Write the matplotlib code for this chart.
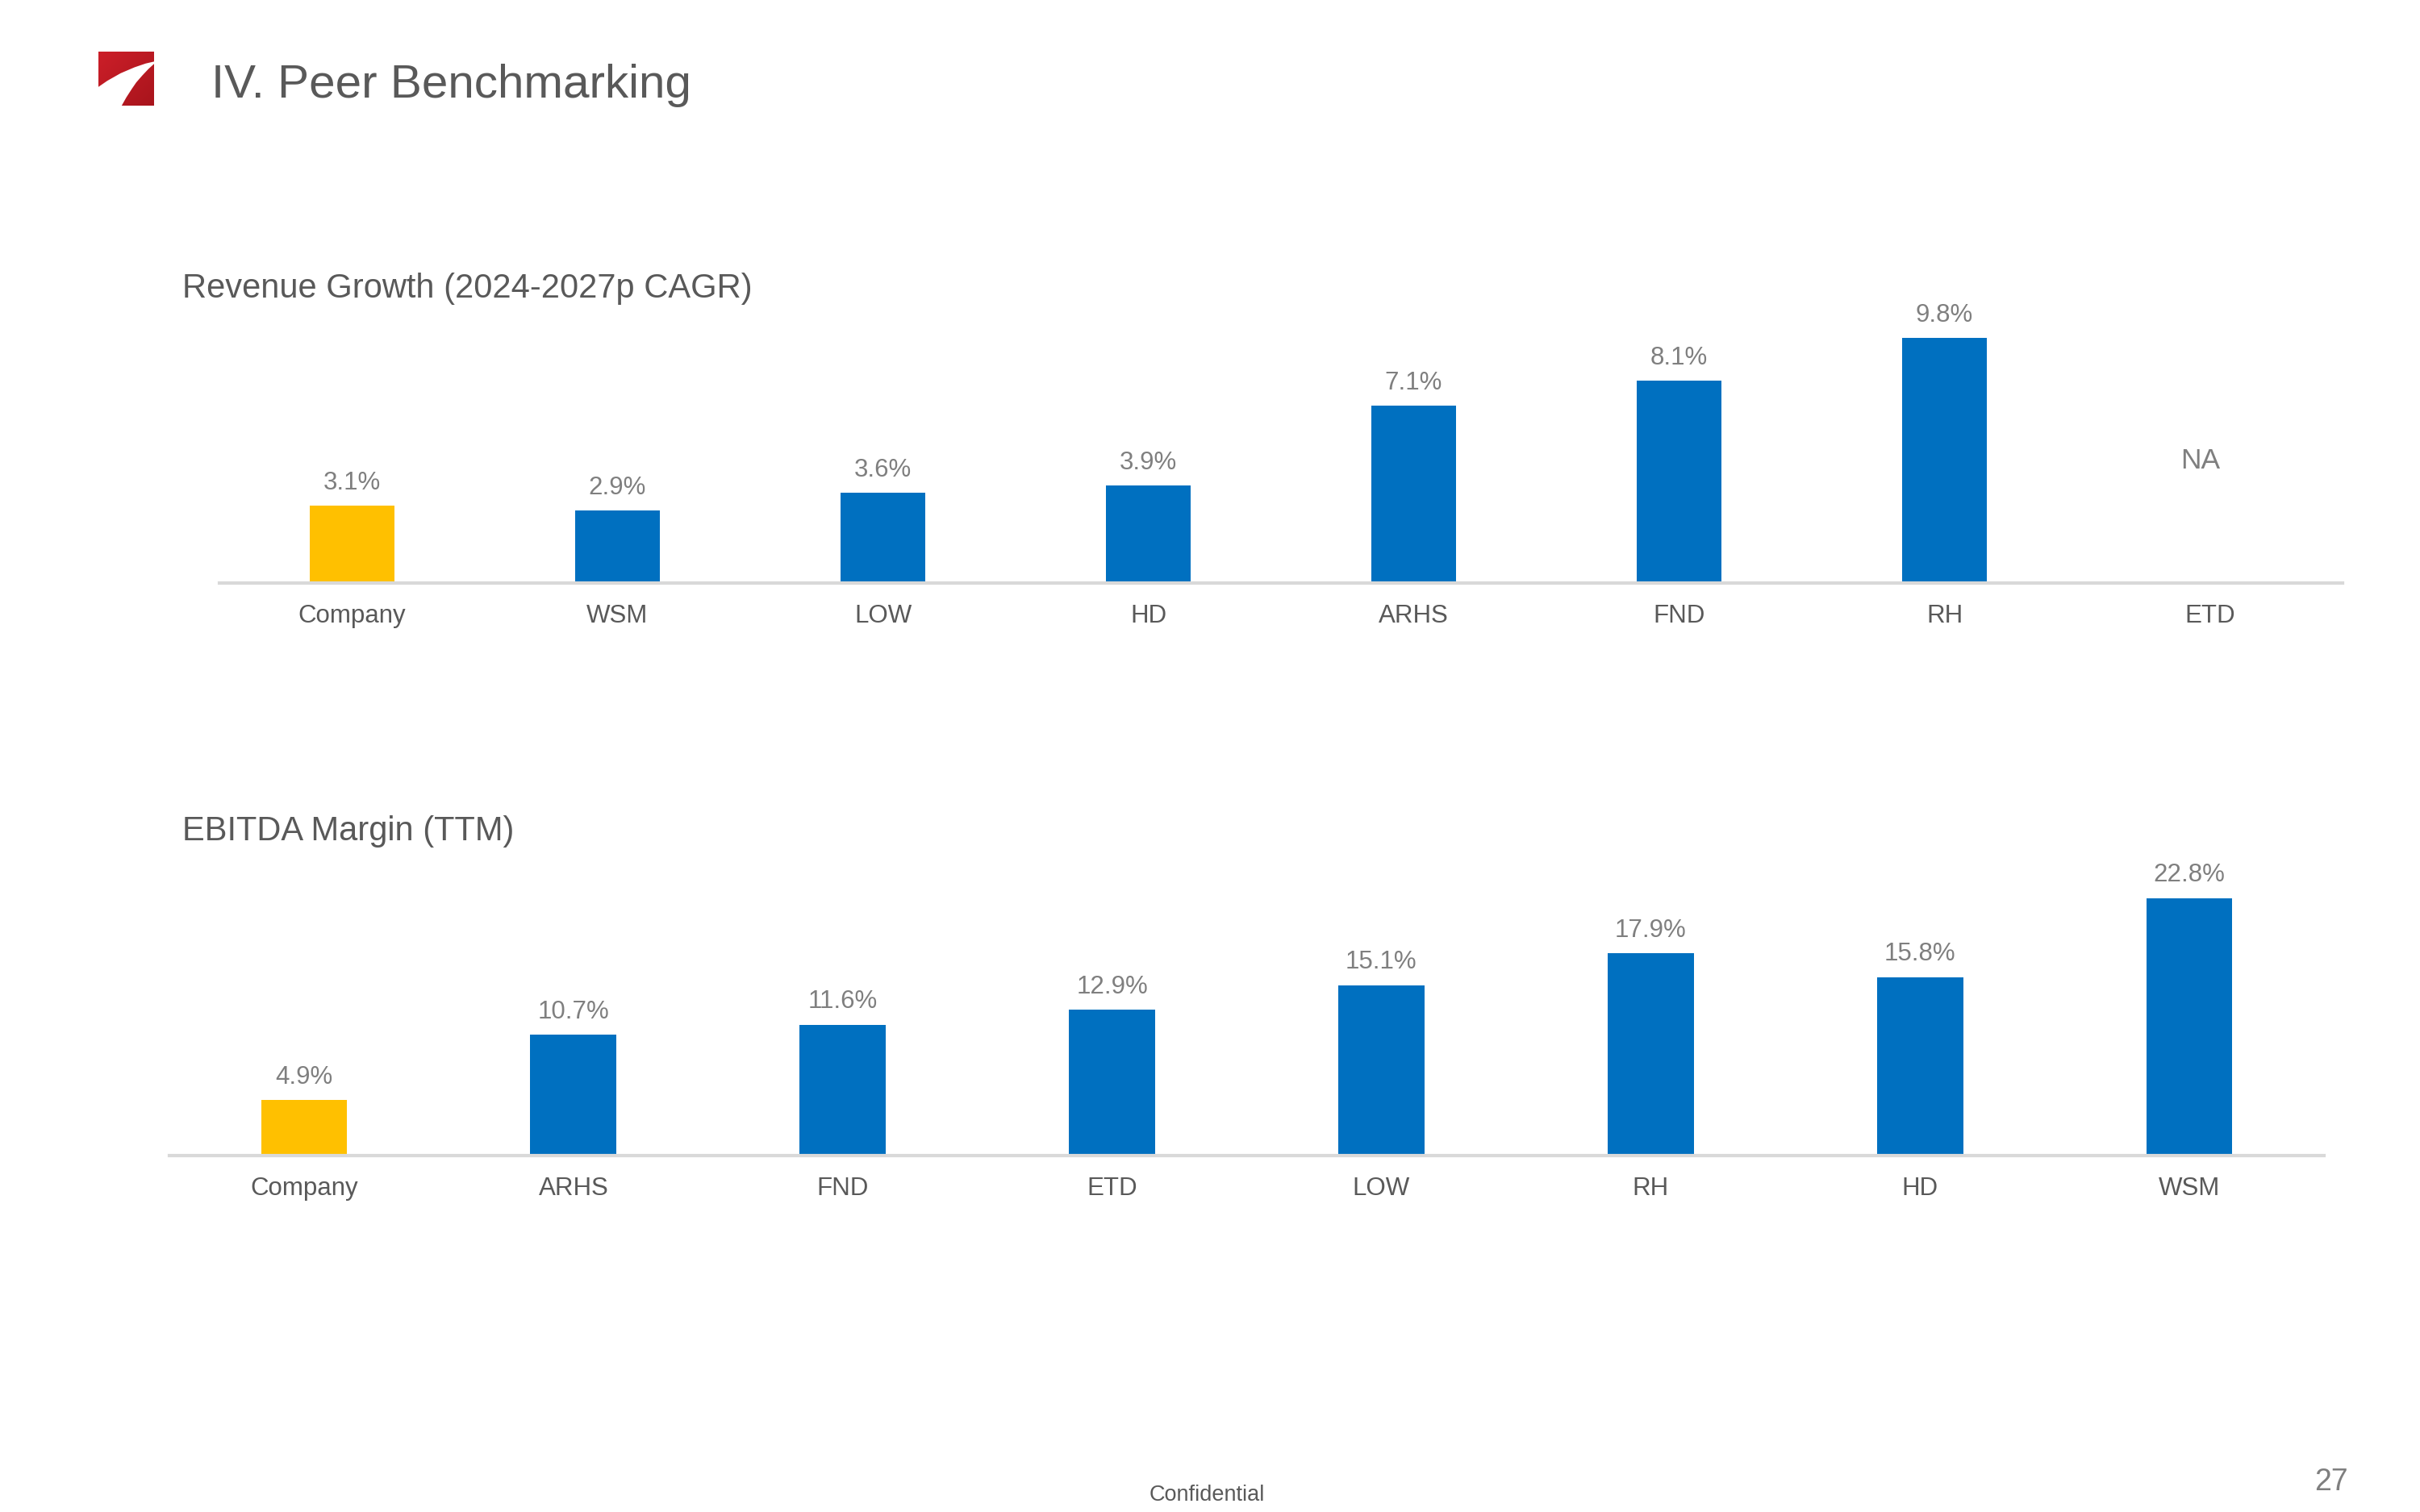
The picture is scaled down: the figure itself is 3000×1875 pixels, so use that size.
import numpy as np
import matplotlib
matplotlib.use('Agg')
import matplotlib.pyplot as plt
from matplotlib.patches import Polygon

plt.rcParams['font.family'] = ['Liberation Sans', 'DejaVu Sans']

# Data
rev_names = ['Company', 'WSM', 'LOW', 'HD', 'ARHS', 'FND', 'RH', 'ETD']
rev_values = [3.1, 2.9, 3.6, 3.9, 7.1, 8.1, 9.8, None]  # ETD not available

ebitda_names = ['Company', 'ARHS', 'FND', 'ETD', 'LOW', 'RH', 'HD', 'WSM']
ebitda_values = [4.9, 10.7, 11.6, 12.9, 15.1, 17.9, 15.8, 22.8]

# Styling
W, H = 3000, 1875
COMPANY_COLOR = '#FFC000'
PEER_COLOR = '#0070C0'
TITLE_COLOR = '#595959'
LABEL_COLOR = '#7F7F7F'
AXIS_COLOR = '#D9D9D9'
BAR_WIDTH = 0.32


def px_axes(fig, x0, y0, x1, y1):
    # axes from pixel box (top-left origin)
    return fig.add_axes([x0 / W, 1 - y1 / H, (x1 - x0) / W, (y1 - y0) / H])


def bar_panel(ax, names, values, ymax):
    xs = np.arange(len(names))
    for i, v in enumerate(values):
        color = COMPANY_COLOR if names[i] == 'Company' else PEER_COLOR
        if v is None:
            ax.text(i - 0.035, ymax * 0.445, 'NA', ha='center', va='center',
                    fontsize=8.5, color=LABEL_COLOR)
            continue
        ax.bar(i, v, width=BAR_WIDTH, color=color, zorder=2)
        ax.annotate(f'{v:.1f}%', (i, v), xytext=(0, 3.2), textcoords='offset points',
                    ha='center', va='bottom', fontsize=7.5, color=LABEL_COLOR)
    ax.set_xlim(-0.5, len(names) - 0.5)
    ax.set_ylim(0, ymax)
    ax.set_xticks(xs)
    ax.set_xticklabels(names, fontsize=7.5, color=TITLE_COLOR)
    ax.tick_params(axis='x', length=0, pad=6.3)
    ax.set_yticks([])
    for s in ['top', 'left', 'right']:
        ax.spines[s].set_visible(False)
    ax.spines['bottom'].set_color(AXIS_COLOR)
    ax.spines['bottom'].set_linewidth(1.0)
    ax.patch.set_alpha(0)


fig = plt.figure(figsize=(10, 6.25), dpi=300)

# logo: red gradient square with a white swoosh
lax = px_axes(fig, 100, 50, 210, 150)
lax.set_xlim(100, 210)
lax.set_ylim(150, 50)
lax.axis('off')
gx, gy = np.meshgrid(np.linspace(0, 1, 60), np.linspace(0, 1, 60))
t = (gx + gy) / 2
c0 = np.array([0.80, 0.12, 0.16])
c1 = np.array([0.66, 0.08, 0.11])
grad = c0[None, None, :] * (1 - t[..., None]) + c1[None, None, :] * t[..., None]
lx0, ly0, lw, lh = 122, 64, 69, 67
lax.imshow(grad, extent=(lx0, lx0 + lw, ly0 + lh, ly0), aspect='auto', zorder=1)
rel = [(-0.08, 0.71), (0.16, 0.54), (0.40, 0.40), (0.65, 0.29), (0.85, 0.22),
       (1.06, 0.17), (0.90, 0.32), (0.79, 0.44), (0.68, 0.57), (0.60, 0.69),
       (0.50, 0.85), (0.38, 1.07), (-0.1, 1.07)]
swoosh = [(lx0 + rx * lw, ly0 + ry * lh) for rx, ry in rel]
lax.add_patch(Polygon(swoosh, closed=True, facecolor='white', edgecolor='none', zorder=2))

# page title
fig.text(262 / W, 1 - 106 / H, 'IV. Peer Benchmarking', fontsize=14,
         color=TITLE_COLOR, va='center', ha='left')

# panel titles
fig.text(226 / W, 1 - 358 / H, 'Revenue Growth (2024-2027p CAGR)', fontsize=10,
         color=TITLE_COLOR, va='center', ha='left')
fig.text(226 / W, 1 - 1031 / H, 'EBITDA Margin (TTM)', fontsize=10,
         color=TITLE_COLOR, va='center', ha='left')

# charts
ax1 = px_axes(fig, 272, 723 - 11 * 31.0, 2904, 723)
bar_panel(ax1, rev_names, rev_values, 11)

ax2 = px_axes(fig, 210, 1433 - 25 * 14.0, 2881, 1433)
bar_panel(ax2, ebitda_names, ebitda_values, 25)

# footer
fig.text(1496 / W, 1 - 1854 / H, 'Confidential', fontsize=6.5, color=TITLE_COLOR,
         ha='center', va='center')
fig.text(2890 / W, 1 - 1838 / H, '27', fontsize=9, color=LABEL_COLOR,
         ha='center', va='center')

fig.savefig('out.png', dpi=300)
plt.close('all')
